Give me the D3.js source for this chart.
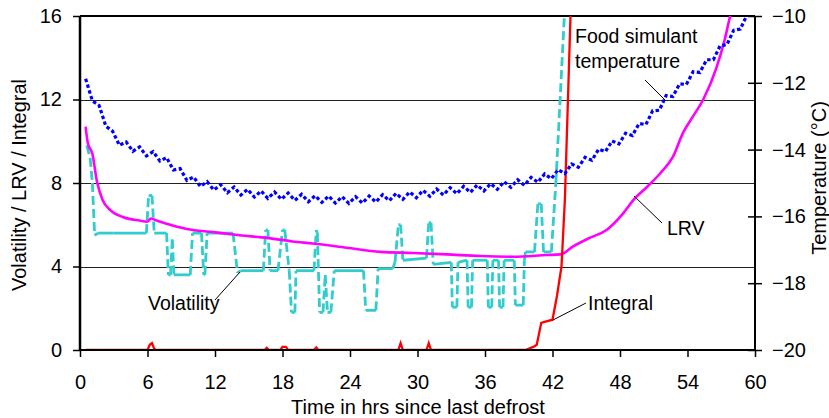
<!DOCTYPE html>
<html>
<head>
<meta charset="utf-8">
<script src="https://cdnjs.cloudflare.com/ajax/libs/d3/7.8.5/d3.min.js"></script>
<style>
    body { margin:0; padding:0; background:#fff; }
    svg text { font-family: "Liberation Sans", Arial, sans-serif; fill:#000; }
    .axis path { display:none; }
    .axis line { stroke:#000; stroke-width:1.5; }
    .axis text { font-size:20px; }
    .grid { stroke:#222; stroke-width:1; }
</style>
</head>
<body>
<svg width="829" height="418"></svg>
<script>
// tick labels
var xTicks = [0, 6, 12, 18, 24, 30, 36, 42, 48, 54, 60];
var leftTicks = [0, 4, 8, 12, 16];
var rightTicks = [-20, -18, -16, -14, -12, -10];

// food simulant temperature (deg C), sampled every 0.6 hr from 0.5 hr
var tempStart = 0.5, tempStep = 0.6;
var tempValues = [
    -11.88, -12.54, -12.68, -13.30, -13.45, -13.87, -13.77, -14.05, -13.92, -14.19,
    -14.06, -14.34, -14.24, -14.61, -14.57, -14.92, -14.82, -15.10, -14.96, -15.21,
    -15.05, -15.29, -15.12, -15.36, -15.19, -15.42, -15.24, -15.46, -15.27, -15.49,
    -15.30, -15.52, -15.34, -15.56, -15.38, -15.58, -15.39, -15.60, -15.41, -15.61,
    -15.41, -15.60, -15.39, -15.57, -15.35, -15.53, -15.31, -15.49, -15.27, -15.44,
    -15.22, -15.40, -15.18, -15.36, -15.14, -15.32, -15.10, -15.28, -15.06, -15.24,
    -15.02, -15.19, -14.96, -15.13, -14.90, -15.07, -14.83, -14.98, -14.73, -14.87,
    -14.60, -14.72, -14.43, -14.53, -14.23, -14.32, -13.99, -14.06, -13.74, -13.83,
    -13.51, -13.58, -13.22, -13.25, -12.84, -12.82, -12.38, -12.41, -12.03, -12.05,
    -11.67, -11.69, -11.31, -11.31, -10.89, -10.86, -10.43, -10.39, -9.96, -9.95
];

// LRV
var lrvHours  = [0.5, 0.7, 1.1, 1.5, 2.0, 2.7, 3.8, 5.3, 6.0, 6.3, 6.8, 7.7, 9.5, 11.8, 14.2, 16.6, 18.9, 20.7, 23.7, 26.7, 29.6, 32.6, 35.6, 38.5, 41.5, 42.7, 43.8, 45.3, 46.8, 48.3, 49.2, 50.4, 51.6, 52.7, 53.6, 54.5, 55.4, 56.6, 57.3, 57.8, 58.5];
var lrvValues = [10.7, 9.9, 9.4, 8.1, 7.2, 6.7, 6.37, 6.2, 6.15, 6.3, 6.2, 6.05, 5.8, 5.65, 5.5, 5.37, 5.2, 5.1, 4.9, 4.7, 4.65, 4.58, 4.5, 4.47, 4.55, 4.58, 4.95, 5.37, 5.75, 6.56, 7.19, 7.81, 8.48, 9.25, 10.4, 11.2, 12.0, 13.56, 14.85, 16.0, 17.0];

// Volatility
var volHours  = [0.6, 0.9, 1.1, 1.3, 1.6, 3.0, 5.9, 6.1, 6.4, 6.6, 7.7, 7.85, 8.05, 8.2, 8.35, 9.8, 10.0, 10.8, 11.0, 11.1, 11.3, 13.6, 14.0, 14.3, 16.3, 16.5, 16.7, 16.9, 17.6, 18.0, 18.2, 18.6, 18.8, 19.1, 19.2, 20.8, 21.0, 21.1, 21.3, 21.6, 21.8, 22.0, 22.3, 22.6, 25.2, 25.4, 26.3, 26.5, 27.8, 28.0, 28.3, 28.5, 28.7, 30.8, 31.0, 31.2, 31.4, 33.0, 33.1, 33.5, 33.6, 34.4, 34.5, 34.8, 34.9, 36.2, 36.3, 36.6, 36.7, 37.2, 37.3, 37.6, 37.7, 38.6, 38.7, 39.4, 39.5, 39.6, 40.4, 40.7, 41.0, 41.2, 41.9, 42.3, 43.1, 43.3];
var volValues = [9.8, 9.2, 8.0, 5.5, 5.6, 5.6, 5.6, 7.4, 7.4, 5.6, 5.6, 3.6, 3.6, 5.3, 3.6, 3.6, 5.6, 5.6, 3.6, 3.6, 5.6, 5.6, 3.7, 3.8, 3.8, 5.75, 5.75, 3.8, 3.8, 5.75, 5.75, 3.8, 1.8, 1.8, 3.8, 3.8, 5.75, 5.6, 1.8, 1.8, 3.6, 1.8, 1.8, 3.8, 3.8, 1.9, 1.9, 3.9, 3.9, 4.2, 6.0, 6.0, 4.3, 4.4, 6.1, 6.1, 4.1, 4.2, 2.05, 2.05, 4.2, 4.3, 2.05, 2.05, 4.3, 4.3, 2.05, 2.05, 4.3, 4.3, 2.05, 2.05, 4.3, 4.3, 2.15, 2.15, 4.3, 4.7, 4.7, 7.0, 7.0, 4.7, 4.7, 8.0, 16.5, 18.0];

// Integral
var intHours  = [0.5, 6.0, 6.2, 6.4, 6.6, 6.8, 16.4, 16.6, 16.8, 17.8, 18.0, 18.3, 18.5, 20.8, 21.0, 21.2, 28.3, 28.5, 28.7, 30.8, 31.0, 31.2, 39.6, 40.3, 40.6, 41.0, 41.3, 42.0, 42.4, 42.8, 43.1, 43.6, 43.8];
var intValues = [0, 0, 0.25, 0.33, 0.05, 0, 0, 0.1, 0, 0, 0.15, 0.15, 0, 0, 0.12, 0, 0, 0.33, 0, 0, 0.33, 0, 0, 0.15, 0.25, 1.3, 1.35, 1.45, 2.6, 4.0, 7.2, 16.0, 18.0];

var svg = d3.select("svg"),
    margin = {top: 16, right: 74, bottom: 68, left: 80},
    width = 829 - margin.left - margin.right,
    height = 418 - margin.top - margin.bottom;

var x = d3.scaleLinear().domain([0, 60]).range([0, width]),
    yL = d3.scaleLinear().domain([0, 16]).range([height, 0]),
    yR = d3.scaleLinear().domain([-20, -10]).range([height, 0]);

var g = svg.append("g")
    .attr("transform", "translate(" + margin.left + "," + margin.top + ")");

svg.append("clipPath").attr("id", "plot")
    .append("rect").attr("x", 0).attr("y", 0).attr("width", width).attr("height", height);

// gridlines
g.selectAll(".grid")
    .data([4, 8, 12])
    .enter().append("line")
    .attr("class", "grid")
    .attr("x1", 0).attr("x2", width)
    .attr("y1", function(d) { return Math.round(yL(d)) + 0.5; })
    .attr("y2", function(d) { return Math.round(yL(d)) + 0.5; });

// axes
g.append("g")
    .attr("class", "axis")
    .attr("transform", "translate(0," + height + ")")
    .call(d3.axisBottom(x).tickValues(xTicks).tickSize(7).tickPadding(18).tickSizeOuter(0));

g.append("g")
    .attr("class", "axis")
    .call(d3.axisLeft(yL).tickValues(leftTicks).tickSize(7).tickPadding(11).tickSizeOuter(0));

var right = g.append("g")
    .attr("class", "axis")
    .attr("transform", "translate(" + width + ",0)")
    .call(d3.axisRight(yR).tickValues(rightTicks).tickSize(7).tickPadding(10).tickSizeOuter(0));
right.selectAll(".tick line").attr("x1", -7).attr("x2", 7);

// frame
g.append("line").attr("x1", 0).attr("x2", width).attr("y1", 0).attr("y2", 0)
    .attr("stroke", "#000").attr("stroke-width", 2);

var plot = g.append("g").attr("clip-path", "url(#plot)");

// volatility: each segment its own dash run, steep ones dashed
var volPts = volHours.map(function(h, i) { return [x(h), yL(volValues[i])]; });
for (var i = 0; i < volPts.length - 1; i++) {
    var a = volPts[i], b = volPts[i + 1];
    var steep = Math.abs(b[1] - a[1]) > Math.abs(b[0] - a[0]);
    plot.append("line")
        .attr("x1", a[0]).attr("y1", a[1]).attr("x2", b[0]).attr("y2", b[1])
        .attr("stroke", "#33CCCC")
        .attr("stroke-width", 2.8)
        .attr("stroke-dasharray", steep ? "9,4" : null);
}

var lineL = d3.line()
    .x(function(d) { return x(d[0]); })
    .y(function(d) { return yL(d[1]); });

plot.append("path")
    .datum(lrvHours.map(function(h, i) { return [h, lrvValues[i]]; }))
    .attr("fill", "none")
    .attr("stroke", "#FF00FF")
    .attr("stroke-width", 2.6)
    .attr("d", lineL.curve(d3.curveMonotoneX));

plot.append("path")
    .datum(intHours.map(function(h, i) { return [h, intValues[i]]; }))
    .attr("fill", "none")
    .attr("stroke", "#FF0000")
    .attr("stroke-width", 2.3)
    .attr("d", lineL.curve(d3.curveLinear));

var lineR = d3.line()
    .x(function(d, i) { return x(tempStart + i * tempStep); })
    .y(function(d) { return yR(d); });

plot.append("path")
    .datum(tempValues)
    .attr("fill", "none")
    .attr("stroke", "#0000FF")
    .attr("stroke-width", 3.2)
    .attr("stroke-dasharray", "3.5,2.5")
    .attr("d", lineR);

// axis borders
g.append("line").attr("x1", 0).attr("x2", 0).attr("y1", 0).attr("y2", height)
    .attr("stroke", "#000").attr("stroke-width", 2.5);
g.append("line").attr("x1", width).attr("x2", width).attr("y1", 0).attr("y2", height)
    .attr("stroke", "#000").attr("stroke-width", 2);
g.append("line").attr("x1", 0).attr("x2", width).attr("y1", height).attr("y2", height)
    .attr("stroke", "#000").attr("stroke-width", 2);

// titles
svg.append("text")
    .attr("x", 418).attr("y", 414)
    .attr("text-anchor", "middle")
    .style("font-size", "20px")
    .text("Time in hrs since last defrost");

svg.append("text")
    .attr("transform", "translate(26,185) rotate(-90)")
    .attr("text-anchor", "middle")
    .style("font-size", "20px")
    .text("Volatility / LRV / Integral");

svg.append("text")
    .attr("transform", "translate(826,178) rotate(-90)")
    .attr("text-anchor", "middle")
    .style("font-size", "20px")
    .text("Temperature (\u00B0C)");

// series labels with pointers
function note(lines, tx, ty, x1, y1, x2, y2) {
    svg.append("line")
        .attr("x1", x1).attr("y1", y1).attr("x2", x2).attr("y2", y2)
        .attr("stroke", "#000").attr("stroke-width", 1);
    var t = svg.append("text").attr("x", tx).attr("y", ty).style("font-size", "19.5px");
    lines.forEach(function(s, k) {
        t.append("tspan").attr("x", tx).attr("dy", k ? 25 : 0).text(s);
    });
}
note(["Volatility"], 148, 310, 215, 300, 240, 272);
note(["Food simulant", "temperature"], 575, 43, 645, 80, 666, 101);
note(["LRV"], 667, 235, 634, 196, 662, 223);
note(["Integral"], 588, 310, 553, 320, 586, 303);
</script>
</body>
</html>
